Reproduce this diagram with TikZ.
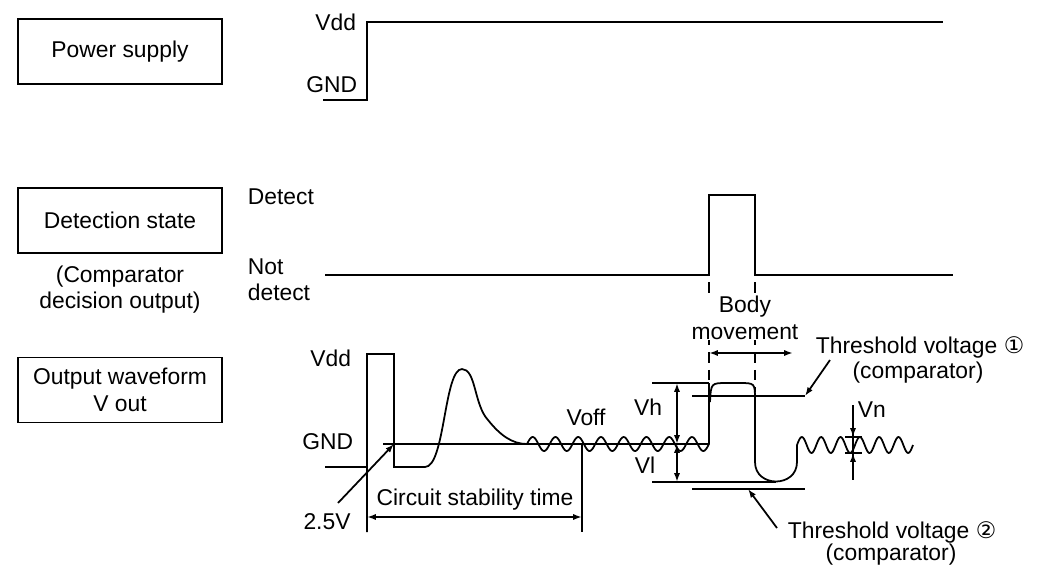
\documentclass[tikz,border=0pt]{standalone}
\usepackage{fontspec}
\setmainfont{Liberation Sans}
\newfontfamily\circfont{DejaVu Sans}
\usetikzlibrary{arrows.meta,positioning}

\begin{document}
\begin{tikzpicture}[x=0.02cm, y=-0.02cm, line width=1pt, >={Latex[length=5pt,width=3.5pt]},
    every node/.style={font=\fontsize{13}{15}\selectfont, inner sep=0pt}]
    \tikzstyle{signal} = [rectangle, draw, line width=1.1pt, minimum width=4.08cm, minimum height=1.3cm, align=center]
    \tikzstyle{level} = [anchor=east]
    \tikzstyle{guide} = [dash pattern=on 6pt off 4pt]
    \useasboundingbox (0,0) rectangle (1042,569);

    % Signal boxes
    \node [signal] (power) at (120,51.5) {Power supply};
    \node [signal] (detect) at (120,220.5) {Detection state};
    \node [below=0.22cm of detect, align=center] (compnote) {(Comparator\\decision output)};
    \node [signal] (vout) at (120,390) {Output waveform\\V out};

    % Power supply waveform
    \node [level] (pvdd) at (357,22) {Vdd};
    \node [level] (pgnd) at (358,85) {GND};
    \draw (323,100) -- (367,100) -- (367,22) -- (943,22);

    % Detection state waveform
    \node [anchor=west] (ldetect) at (247,197) {Detect};
    \node [anchor=west, align=left] (lnot) at (247,280) {Not\\detect};
    \draw (325,275) -- (709,275) -- (709,195) -- (755,195) -- (755,275) -- (953,275);

    % Body movement
    \coordinate (bmleft) at (709,353);
    \coordinate (bmright) at (793,353);
    \draw [guide] (709,282) -- (709,392);
    \draw [guide] (755,282) -- (755,392);
    \node [align=center, fill=white] (body) at (745,318) {Body\\movement};
    \draw [<->] (bmleft) -- (bmright);

    % Output waveform
    \node [level] (ovdd) at (352,358) {Vdd};
    \node [level] (ognd) at (354,442) {GND};
    \draw (325,467) -- (367,467);
    \draw (367,532) -- (367,354) -- (394,354) -- (394,467) -- (425,467)
        .. controls (445,467) and (444,369) .. (462,369)
        .. controls (476,369) and (474,405) .. (488,420)
        .. controls (500,435) and (512,444) .. (527,444);
    \draw (383,444) -- (709,444);
    \draw plot [domain=527:709, samples=180] (\x, {444-7*sin(15.824*(\x-527))})
        -- (709,383);
    \draw (710,402) .. controls (711,383) .. (727,383) -- (739,383)
        .. controls (755,383) .. (755,400) -- (755,462)
        .. controls (755,488) and (797,488) .. (797,462) -- (797,445)
        -- plot [domain=797:913, samples=120] (\x, {445-8*sin(18.62*(\x-797))});

    % Circuit stability time
    \coordinate (stabstart) at (367,517);
    \coordinate (stabend) at (582,517);
    \draw (582,444) -- (582,532);
    \draw [<->] (stabstart) -- (stabend);
    \node (stab) at (475,500) {Circuit stability time};
    \node (v25) at (327,522) {2.5V};
    \coordinate (v25tip) at (394,444);
    \draw [->] (338,503) -- (v25tip);
    \node (voff) at (586,417) {Voff};

    % Vh / Vl
    \coordinate (vhtop) at (677,383);
    \coordinate (vmid) at (677,444);
    \coordinate (vlbot) at (677,482);
    \draw (652,383) -- (709,383);
    \draw (652,482) -- (776,482);
    \draw [<->] (vhtop) -- (vmid);
    \draw [<->] (vmid) -- (vlbot);
    \node (vh) at (648,407) {Vh};
    \node (vl) at (645,465) {Vl};

    % Threshold voltages
    \coordinate (th1end) at (805,396);
    \coordinate (th2end) at (748,489);
    \draw (692,396) -- (th1end);
    \draw (692,489) -- (805,489);
    \node [anchor=west] (th1lab) at (815,347) {Threshold voltage {\circfont ①}};
    \node (th1cmp) at (918,373) {(comparator)};
    \draw [->] (830,360) -- (th1end);
    \node [anchor=west] (th2lab) at (787,532) {Threshold voltage {\circfont ②}};
    \node (th2cmp) at (891,555) {(comparator)};
    \draw [->] (777,528) -- (th2end);

    % Vn
    \coordinate (vntop) at (853,437);
    \coordinate (vnbot) at (853,453);
    \draw (853,405) -- (853,480);
    \draw (845,437) -- (862,437);
    \draw (845,453) -- (862,453);
    \draw [->] (853,412) -- (vntop);
    \draw [->] (853,476) -- (vnbot);
    \node [anchor=west] (vn) at (857,410) {Vn};
\end{tikzpicture}
\end{document}
